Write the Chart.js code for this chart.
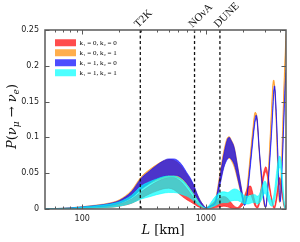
<!DOCTYPE html>
<html><head><meta charset="utf-8">
<script src="https://cdn.jsdelivr.net/npm/chart.js@4/dist/chart.umd.min.js"></script>
<style>html,body{margin:0;padding:0;background:#fff}</style>
</head><body>
<canvas id="c" width="300" height="242" style="width:300px;height:242px;display:block"></canvas>
<script>
// ---------- data ----------
const L_KM = [
50, 60, 70, 80, 100, 130, 170, 200, 250, 300,
350, 400, 450, 500, 550, 600, 650, 700, 750, 800,
850, 900, 950, 1000, 1050, 1100, 1200, 1300, 1400, 1500,
1550, 1600, 1700, 1800, 1900, 2000, 2050, 2100, 2200, 2300,
2400, 2500, 2550, 2600, 2700, 2800, 2900, 3000, 3050, 3100,
3200, 3300, 3400, 3500, 3550, 3600, 3700, 3800, 3900, 3950,
4000, 4100, 4200, 4300, 4400, 4450];

// k1 = 0, k2 = 0 (red band)
const RED_LO = [
0.0001, 0.0002, 0.0003, 0.0005, 0.001, 0.0015, 0.0025, 0.004, 0.008, 0.015,
0.021, 0.025, 0.028, 0.029, 0.027, 0.022, 0.017, 0.013, 0.010, 0.007,
0.004, 0.002, 0.001, 0.0005, 0.001, 0.001, 0.002, 0.003, 0.004, 0.003,
0.002, 0.001, 0.0005, 0, 0.002, 0.006, 0.009, 0.012, 0.018, 0.020,
0.012, 0.004, 0.002, 0.001, 0.006, 0.020, 0.038, 0.050, 0.052, 0.050,
0.038, 0.024, 0.012, 0.003, 0.001, 0.001, 0.008, 0.020, 0.032, 0.035,
0.034, 0.024, 0.012, 0.003, 0.001, 0.002];
const RED_HI = [
0.0003, 0.0005, 0.0008, 0.001, 0.002, 0.003, 0.005, 0.007, 0.014, 0.024,
0.032, 0.038, 0.042, 0.044, 0.044, 0.041, 0.036, 0.029, 0.022, 0.015,
0.009, 0.005, 0.002, 0.001, 0.003, 0.006, 0.012, 0.016, 0.0175, 0.015,
0.012, 0.009, 0.004, 0.002, 0.006, 0.013, 0.018, 0.023, 0.031, 0.032,
0.022, 0.010, 0.005, 0.004, 0.012, 0.030, 0.047, 0.057, 0.059, 0.057,
0.045, 0.030, 0.016, 0.006, 0.003, 0.004, 0.015, 0.030, 0.042, 0.044,
0.042, 0.032, 0.018, 0.006, 0.003, 0.006];

// k1 = 0, k2 = 1 (orange band)
const ORANGE_LO = [
0.0002, 0.0004, 0.0007, 0.001, 0.002, 0.003, 0.005, 0.008, 0.016, 0.027,
0.035, 0.040, 0.043, 0.045, 0.045, 0.043, 0.039, 0.033, 0.026, 0.019,
0.012, 0.006, 0.003, 0.0015, 0.002, 0.004, 0.010, 0.036, 0.060, 0.071,
0.071, 0.068, 0.058, 0.042, 0.025, 0.011, 0.006, 0.012, 0.040, 0.074,
0.106, 0.130, 0.130, 0.121, 0.080, 0.044, 0.016, 0.003, 0.003, 0.010,
0.046, 0.090, 0.134, 0.172, 0.175, 0.167, 0.125, 0.066, 0.018, 0.009,
0.016, 0.060, 0.118, 0.172, 0.215, 0.235];
const ORANGE_HI = [
0.0003, 0.0006, 0.001, 0.0016, 0.0032, 0.0055, 0.0088, 0.013, 0.026, 0.045,
0.055, 0.062, 0.067, 0.069, 0.068, 0.064, 0.057, 0.049, 0.041, 0.032,
0.021, 0.012, 0.006, 0.002, 0.003, 0.006, 0.015, 0.050, 0.082, 0.100,
0.101, 0.097, 0.086, 0.062, 0.038, 0.016, 0.008, 0.015, 0.045, 0.080,
0.112, 0.135, 0.134, 0.126, 0.085, 0.048, 0.018, 0.004, 0.003, 0.012,
0.050, 0.095, 0.140, 0.178, 0.180, 0.172, 0.130, 0.070, 0.020, 0.010,
0.018, 0.065, 0.125, 0.180, 0.225, 0.245];

// k1 = 1, k2 = 0 (blue band)
const BLUE_LO = [
0.0002, 0.0004, 0.0007, 0.001, 0.002, 0.003, 0.005, 0.008, 0.016, 0.028,
0.036, 0.042, 0.045, 0.047, 0.047, 0.046, 0.042, 0.036, 0.029, 0.022,
0.015, 0.008, 0.004, 0.0015, 0.002, 0.004, 0.009, 0.033, 0.058, 0.070,
0.072, 0.070, 0.062, 0.045, 0.027, 0.011, 0.005, 0.007, 0.030, 0.062,
0.094, 0.121, 0.126, 0.122, 0.082, 0.050, 0.022, 0.004, 0.002, 0.008,
0.036, 0.070, 0.105, 0.145, 0.163, 0.167, 0.136, 0.086, 0.032, 0.013,
0.010, 0.042, 0.086, 0.135, 0.175, 0.190];
const BLUE_HI = [
0.0003, 0.0006, 0.001, 0.0015, 0.003, 0.005, 0.008, 0.012, 0.024, 0.043,
0.053, 0.061, 0.067, 0.070, 0.070, 0.067, 0.060, 0.051, 0.043, 0.033,
0.021, 0.012, 0.006, 0.002, 0.003, 0.005, 0.012, 0.045, 0.077, 0.098,
0.100, 0.096, 0.085, 0.061, 0.038, 0.016, 0.007, 0.010, 0.035, 0.068,
0.100, 0.126, 0.131, 0.127, 0.086, 0.054, 0.025, 0.006, 0.003, 0.010,
0.040, 0.075, 0.110, 0.150, 0.168, 0.172, 0.140, 0.090, 0.035, 0.015,
0.012, 0.045, 0.090, 0.140, 0.180, 0.195];

// k1 = 1, k2 = 1 (cyan band)
const CYAN_LO = [
0.0001, 0.0002, 0.0003, 0.0005, 0.001, 0.0015, 0.0025, 0.004, 0.008, 0.014,
0.017, 0.020, 0.022, 0.023, 0.023, 0.022, 0.020, 0.018, 0.015, 0.011,
0.007, 0.004, 0.002, 0.001, 0.001, 0.002, 0.005, 0.008, 0.009, 0.009,
0.010, 0.011, 0.012, 0.012, 0.010, 0.008, 0.007, 0.007, 0.007, 0.008,
0.009, 0.009, 0.008, 0.007, 0.008, 0.012, 0.018, 0.022, 0.021, 0.018,
0.012, 0.006, 0.004, 0.005, 0.008, 0.012, 0.025, 0.042, 0.055, 0.058,
0.058, 0.045, 0.022, 0.004, 0, 0.001];
const CYAN_HI = [
0.0003, 0.0006, 0.001, 0.0014, 0.0028, 0.0045, 0.007, 0.010, 0.019, 0.032,
0.038, 0.042, 0.045, 0.046, 0.046, 0.044, 0.040, 0.034, 0.027, 0.020,
0.013, 0.007, 0.003, 0.001, 0.004, 0.009, 0.018, 0.023, 0.024, 0.023,
0.024, 0.026, 0.028, 0.027, 0.024, 0.020, 0.019, 0.018, 0.018, 0.019,
0.020, 0.020, 0.019, 0.018, 0.020, 0.027, 0.035, 0.039, 0.038, 0.034,
0.024, 0.016, 0.012, 0.015, 0.020, 0.027, 0.045, 0.062, 0.072, 0.074,
0.073, 0.060, 0.035, 0.012, 0.002, 0.003];

const LEGEND_LABELS = ['k\u2081 = 0, k\u2082 = 0', 'k\u2081 = 0, k\u2082 = 1', 'k\u2081 = 1, k\u2082 = 0', 'k\u2081 = 1, k\u2082 = 1'];
const EXPERIMENTS = ['T2K', 'NO\u03bdA', 'DUNE'];
const EXPERIMENT_L = [295, 810, 1300];
const X_TICKS = [60, 70, 80, 90, 100, 200, 300, 400, 500, 600, 700, 800, 900, 1000, 2000, 3000, 4000];
const X_LABELED = [100, 1000];
const Y_TICKS = [0, 0.05, 0.1, 0.15, 0.2, 0.25];
const X_RANGE = [50, 4450];
const Y_RANGE = [0, 0.25];

// ---------- styling ----------
const COLORS = ['rgba(255,0,0,0.7)', 'rgba(255,140,0,0.7)', 'rgba(0,0,255,0.7)', 'rgba(0,255,255,0.7)'];
const BANDS = [[RED_LO, RED_HI], [ORANGE_LO, ORANGE_HI], [BLUE_LO, BLUE_HI], [CYAN_LO, CYAN_HI]];
const pts = arr => L_KM.map((l, i) => ({x: l, y: arr[i]}));

const datasets = [];
BANDS.forEach(([lo, hi], b) => {
  const order = 10 - b;
  const common = {borderColor: COLORS[b], borderWidth: 0.8, pointRadius: 0,
    cubicInterpolationMode: 'monotone', order};
  datasets.push(Object.assign({label: LEGEND_LABELS[b] + ' lo', data: pts(lo), fill: false}, common));
  datasets.push(Object.assign({label: LEGEND_LABELS[b], data: pts(hi), fill: '-1', backgroundColor: COLORS[b]}, common));
});
EXPERIMENT_L.forEach((l, i) => {
  datasets.push({label: EXPERIMENTS[i], data: Y_RANGE.map(v => ({x: l, y: v})),
    borderColor: '#111', borderWidth: 1.3, borderDash: [3, 2.5], pointRadius: 0,
    fill: false, order: 1});
});

const AXIS = '#5a5a5a';
const decor = {
  id: 'decor',
  afterLayout(chart) {
    const lg = chart.legend, a = chart.chartArea;
    if (lg) {
      const w = lg.width, h = lg.height;
      lg.left = a.left + 7; lg.right = lg.left + w;
      lg.top = a.top + 6.3; lg.bottom = lg.top + h;
    }
  },
  afterDatasetsDraw(chart) {
    const {ctx, chartArea: a, scales: {x, y}} = chart;
    ctx.save();
    ctx.strokeStyle = AXIS; ctx.lineWidth = 1;
    ctx.beginPath();
    x.ticks.forEach(t => {
      const px = Math.round(x.getPixelForValue(t.value)) + 0.5;
      const len = X_LABELED.includes(t.value) ? 4.5 : 2.5;
      ctx.moveTo(px, a.bottom); ctx.lineTo(px, a.bottom - len);
      ctx.moveTo(px, a.top); ctx.lineTo(px, a.top + len);
    });
    y.ticks.forEach(t => {
      const py = Math.round(y.getPixelForValue(t.value)) + 0.5;
      ctx.moveTo(a.left, py); ctx.lineTo(a.left + 4.5, py);
      ctx.moveTo(a.right, py); ctx.lineTo(a.right - 4.5, py);
    });
    ctx.stroke();
    ctx.lineWidth = 1.5; ctx.strokeStyle = AXIS;
    ctx.strokeRect(a.left, a.top, a.right - a.left, a.bottom - a.top);
    // experiment labels
    ctx.fillStyle = '#111';
    ctx.font = '11px "Liberation Serif", serif';
    ctx.textAlign = 'left'; ctx.textBaseline = 'alphabetic';
    EXPERIMENT_L.forEach((l, i) => {
      const px = x.getPixelForValue(l);
      ctx.save();
      ctx.translate(px - 2, a.top - 2);
      ctx.rotate(-Math.PI / 4);
      ctx.fillText(EXPERIMENTS[i], 0, 0);
      ctx.restore();
    });
    ctx.restore();
  },
  afterDraw(chart) {
    const {ctx, chartArea: a} = chart;
    const fam = '"DejaVu Serif", serif';
    const rich = (parts, cx, cy, size) => {
      const fontOf = p => `${p.italic ? 'italic ' : ''}${p.sub ? size * 0.7 : size}px ${fam}`;
      let w = 0;
      parts.forEach(p => { ctx.font = fontOf(p); w += ctx.measureText(p.t).width; });
      let xx = cx - w / 2;
      parts.forEach(p => {
        ctx.font = fontOf(p);
        ctx.fillText(p.t, xx, cy + (p.sub ? size * 0.25 : 0));
        xx += ctx.measureText(p.t).width;
      });
    };
    ctx.save();
    ctx.fillStyle = '#111';
    ctx.textBaseline = 'alphabetic'; ctx.textAlign = 'left';
    rich([{t: 'L', italic: true}, {t: ' [km]'}], 163, 234, 13);
    ctx.translate(15.5, (a.top + a.bottom) / 2 - 3);
    ctx.rotate(-Math.PI / 2);
    rich([{t: 'P', italic: true}, {t: '('}, {t: '\u03bd', italic: true}, {t: '\u03bc', italic: true, sub: true},
          {t: ' \u2192 '}, {t: '\u03bd', italic: true}, {t: 'e', italic: true, sub: true}, {t: ')'}], 0, 0, 13);
    ctx.restore();
  }
};

new Chart(document.getElementById('c'), {
  type: 'line',
  data: {datasets},
  options: {
    responsive: false, animation: false, devicePixelRatio: 1,
    layout: {padding: {top: 30, right: 14, left: 0, bottom: 0}},
    plugins: {
      tooltip: {enabled: false},
      legend: {
        position: 'chartArea', align: 'start',
        labels: {
          boxWidth: 21, boxHeight: 7, padding: 3, color: '#111',
          font: {family: '"Liberation Serif", serif', size: 7},
          generateLabels: () => LEGEND_LABELS.map((t, i) => ({text: t, fillStyle: COLORS[i], strokeStyle: COLORS[i], lineWidth: 0, hidden: false}))
        }
      }
    },
    scales: {
      x: {
        type: 'logarithmic', position: 'bottom', min: X_RANGE[0], max: X_RANGE[1],
        grid: {display: false, drawTicks: false}, border: {display: false},
        afterBuildTicks: s => { s.ticks = X_TICKS.map(v => ({value: v})); },
        afterFit: s => { s.height = 33; },
        ticks: {autoSkip: false, maxRotation: 0, padding: 5, color: '#222',
          font: {family: '"DejaVu Sans", sans-serif', size: 8},
          callback: v => X_LABELED.includes(v) ? String(v) : ''}
      },
      y: {
        type: 'linear', min: Y_RANGE[0], max: Y_RANGE[1],
        grid: {display: false, drawTicks: false}, border: {display: false},
        afterBuildTicks: s => { s.ticks = Y_TICKS.map(v => ({value: v})); },
        afterFit: s => { s.width = 45; },
        ticks: {padding: 6, color: '#222', font: {family: '"DejaVu Sans", sans-serif', size: 8},
          callback: v => String(+Number(v).toFixed(2))}
      }
    }
  },
  plugins: [decor]
});
</script>
</body></html>
